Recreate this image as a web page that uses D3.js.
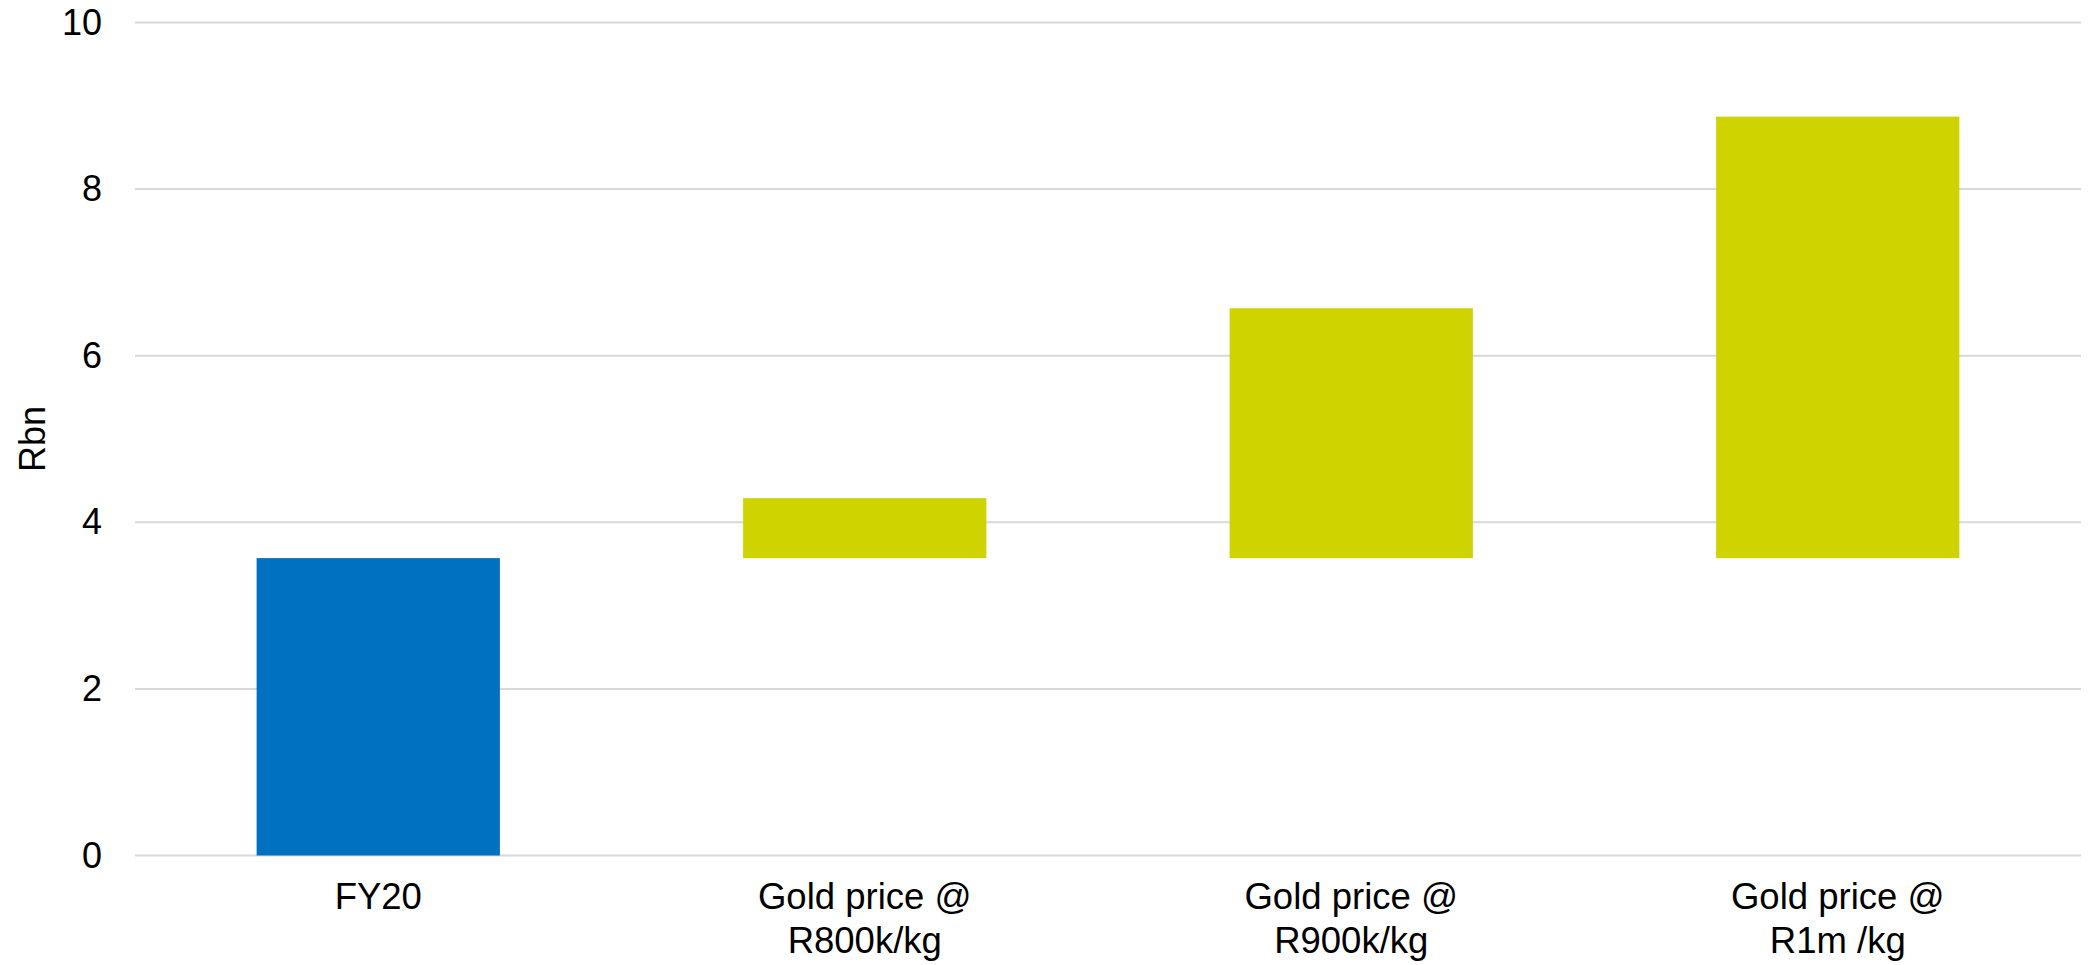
<!DOCTYPE html>
<html>
<head>
<meta charset="utf-8">
<script src="https://cdn.jsdelivr.net/npm/d3@7"></script>
<style>
  html, body { margin: 0; padding: 0; background: #fff; }
  svg text { font-family: "Liberation Sans", Arial, sans-serif; fill: #000; }
</style>
</head>
<body>
<svg id="chart"></svg>
<script>
// Data
const categories = ["FY20", "Gold price @|R800k/kg", "Gold price @|R900k/kg", "Gold price @|R1m /kg"];
const barStart = [0, 3.57, 3.57, 3.57];
const barEnd = [3.57, 4.29, 6.57, 8.87];
const barKind = ["base", "up", "up", "up"];
const yTicks = [0, 2, 4, 6, 8, 10];
const yLabel = "Rbn";

// Configurations
const width = 2090;
const height = 965;
const marginTop = 22.5;
const marginBottom = 109.5;
const marginLeft = 135;
const marginRight = 9;
const colors = {base: "#0070C0", up: "#CFD400"};

const svg = d3.select("#chart")
    .attr("width", width)
    .attr("height", height)
    .attr("viewBox", [0, 0, width, height]);

const x = d3.scaleBand(categories, [marginLeft, width - marginRight])
    .paddingInner(0.5)
    .paddingOuter(0.25);
const y = d3.scaleLinear([0, 10], [height - marginBottom, marginTop]);

// gridlines
svg.append("g")
    .selectAll("line")
    .data(yTicks)
    .join("line")
    .attr("x1", marginLeft)
    .attr("x2", width - marginRight)
    .attr("y1", d => y(d))
    .attr("y2", d => y(d))
    .attr("stroke", "#D9D9D9")
    .attr("stroke-width", 2);

// y axis
svg.append("g")
    .attr("transform", `translate(${marginLeft},0)`)
    .call(d3.axisLeft(y).tickValues(yTicks).tickSize(0).tickPadding(33))
    .call(g => g.select(".domain").remove())
    .call(g => g.selectAll("text")
        .attr("font-size", 36)
        .attr("font-family", "Liberation Sans, Arial, sans-serif")
        .attr("fill", "#000"));

svg.append("text")
    .attr("transform", `translate(32,${y(5)}) rotate(-90)`)
    .attr("text-anchor", "middle")
    .attr("dy", "0.35em")
    .attr("font-size", 36)
    .text(yLabel);

// bars
svg.append("g")
    .selectAll("rect")
    .data(d3.range(categories.length))
    .join("rect")
    .attr("x", i => x(categories[i]))
    .attr("width", x.bandwidth())
    .attr("y", i => y(barEnd[i]))
    .attr("height", i => y(barStart[i]) - y(barEnd[i]))
    .attr("fill", i => colors[barKind[i]]);

// x labels
const xl = svg.append("g")
    .selectAll("text")
    .data(categories)
    .join("text")
    .attr("text-anchor", "middle")
    .attr("font-size", 36.5)
    .attr("x", d => x(d) + x.bandwidth() / 2)
    .attr("y", y(0) + 53.5);

xl.selectAll("tspan")
    .data(d => d.split("|").map(t => ({t, d})))
    .join("tspan")
    .attr("x", o => x(o.d) + x.bandwidth() / 2)
    .attr("dy", (o, i) => i === 0 ? 0 : 44)
    .text(o => o.t);
</script>
</body>
</html>
